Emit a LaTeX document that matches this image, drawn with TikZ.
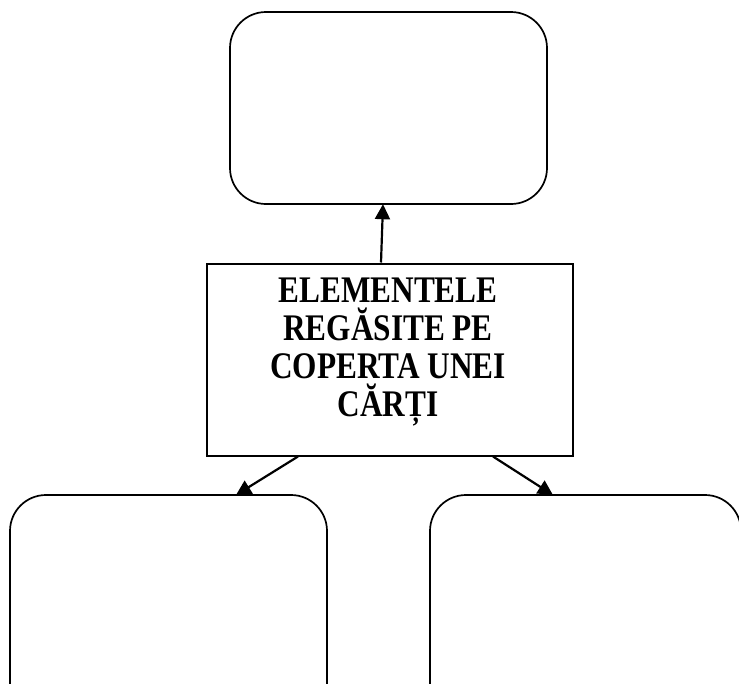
\documentclass[tikz,border=0pt]{standalone}
\usepackage{fontspec}
\setmainfont{Liberation Serif}
\usetikzlibrary{arrows.meta}
\tikzset{
  roundbox/.style={draw=black, line width=1.7pt, rounded corners=36pt, fill=none},
  mainbox/.style={draw=black, line width=2pt, inner sep=0pt},
  conn/.style={line width=2.2pt, -{Triangle[length=15pt,width=15pt]}},
  maintext/.style={align=center, inner sep=0pt,
    font={\fontsize{31.3}{38}\selectfont\bfseries\lineskiplimit=-100pt\lineskip=0pt}}
}
\newcommand{\vstr}[1]{\scalebox{1}[1.2]{#1}}
\begin{document}
\begin{tikzpicture}[x=1pt,y=-1pt]
\useasboundingbox (0,0) rectangle (739,683);
\clip (0,0) rectangle (739,683);
% boxes
\draw[roundbox] (230,12) rectangle (547,204);
\node[minimum width=317pt, minimum height=192pt, inner sep=0pt] (top) at (388.5,108) {};
\draw[roundbox] (10,495) rectangle (327,720);
\node[minimum width=317pt, minimum height=30pt, inner sep=0pt, anchor=north] (bl) at (168.5,495) {};
\draw[roundbox] (430,495) rectangle (741,720);
\node[minimum width=311pt, minimum height=30pt, inner sep=0pt, anchor=north] (br) at (585.5,495) {};
% central box
\node[mainbox, minimum width=366pt, minimum height=192pt] (c) at (390,359.5) {};
\node[maintext, anchor=north] (ctext) at (388,278)
  {\vstr{ELEMENTELE}\\ \vstr{REGĂSITE PE}\\ \vstr{COPERTA UNEI}\\ \vstr{CĂRȚI}};
% connectors
\draw[conn] ([xshift=-9pt]c.north) -- ([xshift=-5.5pt]top.south);
\draw[conn] ([xshift=-92pt]c.south) -- ([xshift=67.5pt]bl.north);
\draw[conn] ([xshift=103pt]c.south) -- ([xshift=-32.5pt]br.north);
\end{tikzpicture}
\end{document}
